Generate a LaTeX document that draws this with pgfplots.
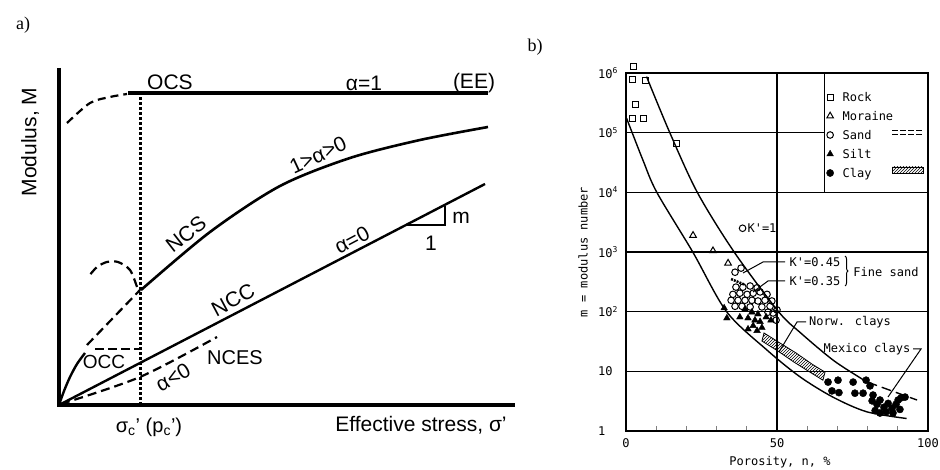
\documentclass[border=0pt]{standalone}
\usepackage{fontspec}
\setmainfont{Liberation Sans}
\newfontfamily\monof{DejaVu Sans Mono}
\newfontfamily\serf{Liberation Serif}
\usepackage{pgfplots}
\pgfplotsset{compat=1.18}
\usetikzlibrary{patterns,decorations.pathreplacing}

\newcommand\fa{\fontsize{21}{24}\selectfont}
\newcommand\fb{\monof\fontsize{12}{14}\selectfont}

\begin{document}
\begin{tikzpicture}[x=1pt,y=1pt]
\useasboundingbox (0,0) rectangle (940,470);

% ---------------- a) modulus versus effective stress (schematic) ----------------
\begin{axis}[at={(59pt,65pt)}, anchor=south west, scale only axis,
  width=456pt, height=335pt, xmin=0, xmax=456, ymin=0, ymax=335,
  hide axis, clip=false]
  % axes
  \draw[line width=4.5pt, line join=miter] (axis cs:0,337) -- (axis cs:0,0) -- (axis cs:456,0);
  % OCS, alpha = 1
  \addplot[line width=3.6pt] coordinates {(69,312) (429,312)};
  \addplot[line width=2.2pt, dash pattern=on 8pt off 5pt, smooth] coordinates {(8,282) (31,302) (51,308) (68,311)};
  % preconsolidation stress
  \addplot[line width=2.2pt, dash pattern=on 3pt off 2pt] coordinates {(81.5,0) (81.5,312)};
  % NCS, 1 > alpha > 0
  \addplot[line width=2.6pt, smooth] coordinates {(82,115) (151,173) (221,219) (291,247) (361,265) (429,278)};
  % NCC, alpha = 0
  \addplot[line width=2.4pt] coordinates {(0,0) (426,221)};
  \addplot[line width=2pt] coordinates {(346,180) (386,180) (386,199)};
  % OCC
  \addplot[line width=2.4pt, smooth] coordinates {(0,0) (5,14) (11,28) (18,41) (26,52)};
  \addplot[line width=2.2pt, dash pattern=on 9pt off 5pt] coordinates {(28,60) (81,115)};
  \addplot[line width=2.2pt, dash pattern=on 9pt off 4pt] coordinates {(36,56) (81,56)};
  % NCES, alpha < 0
  \addplot[line width=2.2pt, dash pattern=on 9pt off 5pt, smooth] coordinates {(2,1) (81,28) (158,68)};
  % unloading loop
  \addplot[line width=2.2pt, dash pattern=on 9pt off 5pt, smooth] coordinates {(78,118) (71,135) (59,143) (48,143) (38,138) (30,129)};
\end{axis}

\node[font=\serf\fontsize{18}{20}\selectfont] at (23,445) {a)};
\node[font=\fa, rotate=90] at (30,328) {Modulus, M};
\node[font=\fa] at (170,388) {OCS};
\node[font=\fa] at (364,387) {α=1};
\node[font=\fa] at (474,387) {(EE)};
\node[font=\fa, rotate=25] at (318,315) {1>α>0};
\node[font=\fa, rotate=38] at (186,236) {NCS};
\node[font=\fa, rotate=28] at (233,170) {NCC};
\node[font=\fa, rotate=28] at (352,230) {α=0};
\node[font=\fa] at (461,252) {m};
\node[font=\fa] at (431,227) {1};
\node[font=\fontsize{19}{22}\selectfont] at (104,108) {OCC};
\node[font=\fontsize{20}{22}\selectfont] at (235,112) {NCES};
\node[font=\fa, rotate=30] at (173,93) {α<0};
\node[font=\fontsize{20}{22}\selectfont] at (149,43) {σ\textsubscript{c}’ (p\textsubscript{c}’)};
\node[font=\fa] at (421,45) {Effective stress, σ’};

% ---------------- b) modulus number versus porosity ----------------
\begin{axis}[at={(626pt,39pt)}, anchor=south west, scale only axis,
  width=302pt, height=358pt, xmin=0, xmax=100, ymode=log, ymin=1, ymax=1e6,
  clip=false, axis line style={line width=1.2pt},
  xtick={0,50,100}, xticklabels={0,50,100},
  ytick={1,10,100,1000,10000,100000,1000000},
  yticklabels={1,10,10\textsuperscript{2},10\textsuperscript{3},10\textsuperscript{4},10\textsuperscript{5},10\textsuperscript{6}},
  minor xtick={10,20,30,40,60,70,80,90}, yminorticks=false,
  xtick pos=left, ytick pos=left, tick align=inside,
  major tick length=0pt, minor tick length=5pt,
  minor tick style={line width=1pt},
  ticklabel style={font=\fb},
  yticklabel style={anchor=west, xshift=-28pt, inner sep=0pt},
  xticklabel style={inner sep=0pt, yshift=-7pt},
  legend style={at={(0.664,0.9455)}, anchor=north west, draw=none, fill=none,
    inner sep=0pt, outer sep=0pt, font=\fb, row sep=8pt,
    nodes={inner sep=0pt, text height=8.5pt, text depth=2.5pt}},
  legend cell align=left,
  legend image code/.code={\path[draw=none,fill=none] (-3.5pt,0pt) -- (12.5pt,0pt); \draw[#1] plot coordinates {(0pt,1pt)};}
]
  % grid and legend frame
  \draw[line width=1.2pt] (axis cs:0,10) -- (axis cs:100,10);
  \draw[line width=1.2pt] (axis cs:0,100) -- (axis cs:100,100);
  \draw[line width=1.2pt] (axis cs:0,1000) -- (axis cs:100,1000);
  \draw[line width=1.2pt] (axis cs:0,10000) -- (axis cs:100,10000);
  \draw[line width=1.2pt] (axis cs:0,100000) -- (axis cs:65.6,100000);
  \draw[line width=1.2pt] (axis cs:50,1) -- (axis cs:50,1000000);
  \draw[line width=1.2pt] (axis cs:65.6,10000) -- (axis cs:65.6,1000000);

  % Rock
  \addplot[only marks, mark=square, mark size=3pt, mark options={line width=1pt}] coordinates {
    (2.4,1.29e6) (2.2,7.9e5) (6.3,7.4e5) (3.0,3.0e5) (2.2,1.74e5) (5.7,1.74e5) (16.6,6.5e4)};
  \addlegendentry{Rock}
  % Moraine
  \addplot[only marks, mark=triangle, mark size=3.8pt, mark options={line width=1pt}] coordinates {
    (22.2,1900) (28.8,1050) (33.8,650)};
  \addlegendentry{Moraine}
  % Sand
  \addplot[only marks, mark=o, mark size=3.3pt, mark options={line width=1pt}] coordinates {
    (38.1,537) (36.1,458) (36.4,258) (38.7,257) (41.1,269) (43.4,251)
    (35.4,195) (37.7,204) (40.1,195) (42.1,204) (44.4,214) (46.7,195)
    (34.8,155) (37.1,155) (39.4,155) (41.7,155) (43.7,151) (46.0,155) (48.3,151)
    (36.1,123) (38.4,123) (41.1,120) (45.0,120) (47.7,123) (50.0,107)
    (49.7,72) (48.7,95) (47.0,98)};
  \addlegendentry{Sand}
  % Silt
  \addplot[only marks, mark=triangle*, mark size=3.8pt] coordinates {
    (32.5,115) (33.4,78) (37.7,81) (39.4,110) (40.4,78) (41.7,98) (42.7,72)
    (43.7,91) (44.4,68) (46.4,81) (48.0,72) (42.1,58) (43.4,48) (45.0,54) (40.4,51)};
  \addlegendentry{Silt}
  % Clay
  \addplot[only marks, mark=*, mark size=3.6pt] coordinates {
    (66.9,6.6) (70.2,7.1) (68.2,4.7) (70.5,4.4) (75.2,6.6) (79.5,7.1) (80.8,5.7)
    (75.8,4.3) (78.5,4.3) (81.8,4.0) (81.5,3.2) (83.1,2.8) (84.1,3.3) (85.4,2.5)
    (86.8,2.9) (88.1,2.4) (89.4,2.8) (90.7,2.3) (90.1,3.3) (92.4,3.7) (82.5,2.2)
    (86.1,2.1) (88.4,2.0) (84.1,2.0) (91.1,3.6)};
  \addlegendentry{Clay}

  % sand, K' = 1
  \addplot[only marks, mark=o, mark size=3.3pt, mark options={line width=1pt}, forget plot] coordinates {(38.6,2500)};

  % bounding curves
  \addplot[line width=1.4pt, smooth, forget plot] coordinates {
    (6.8,8.7e5) (14.5,1e5) (23.6,1e4) (35.8,1e3) (50.5,100) (57.9,43.7) (68.5,15.5) (77.5,7.8) (80,6.6)};
  \addplot[line width=1.4pt, dash pattern=on 10pt off 5pt, smooth, forget plot] coordinates {
    (80,6.6) (88,4.7) (96.4,3.3)};
  \addplot[line width=1.4pt, smooth, forget plot] coordinates {
    (0.2,1.74e5) (5.6,3.47e4) (10.2,1e4) (22.1,1e3) (33.3,100) (46.6,22.9) (57.6,8.1) (68.5,3.7) (79.7,2.1) (92.9,1.62)};

  % fine sand band and Norwegian clays band
  \addplot[line width=2.5pt, dash pattern=on 2pt off 1pt, forget plot] coordinates {(34.8,352) (39.4,282)};
  \addplot[line width=0.8pt, pattern=north east lines, forget plot] coordinates {
    (45.7,43.9) (51.0,29.8) (56.3,20.3) (61.6,13.2) (65.9,9.7)
    (65.2,7.1) (60.9,9.7) (55.6,14.3) (50.3,21.9) (45.0,32.2)} -- cycle;
\end{axis}

% legend line symbols
\draw[line width=1pt, dash pattern=on 6pt off 2pt] (892,339) -- (923,339);
\draw[line width=1pt, dash pattern=on 6pt off 2pt] (892,335) -- (923,335);
\draw[line width=0.8pt, pattern=north east lines] (892,297) rectangle (923,303);

% annotations
\node[font=\fb] at (762,242) {K'=1};
\node[font=\fb] at (815,208) {K'=0.45};
\node[font=\fb] at (815,189) {K'=0.35};
\draw[line width=1pt, decorate, decoration={brace, amplitude=3pt}] (845,214) -- (845,184);
\node[font=\fb] at (886,198) {Fine sand};
\node[font=\fb] at (850,148) {Norw. clays};
\node[font=\fb] at (867,121) {Mexico clays};
\draw[line width=1pt] (785,208) -- (763,208) -- (743,197);
\draw[line width=1pt] (785,189) -- (768,189) -- (753,178);
\draw[line width=1pt] (806,148) -- (797,148) -- (779,118);
\draw[line width=1pt] (913,121) -- (921,121) -- (888,73);

\node[font=\fb, rotate=90] at (583,218) {m = modulus number};
\node[font=\fb] at (780,8) {Porosity, n, \%};
\node[font=\serf\fontsize{18}{20}\selectfont] at (535,423) {b)};
\end{tikzpicture}
\end{document}
